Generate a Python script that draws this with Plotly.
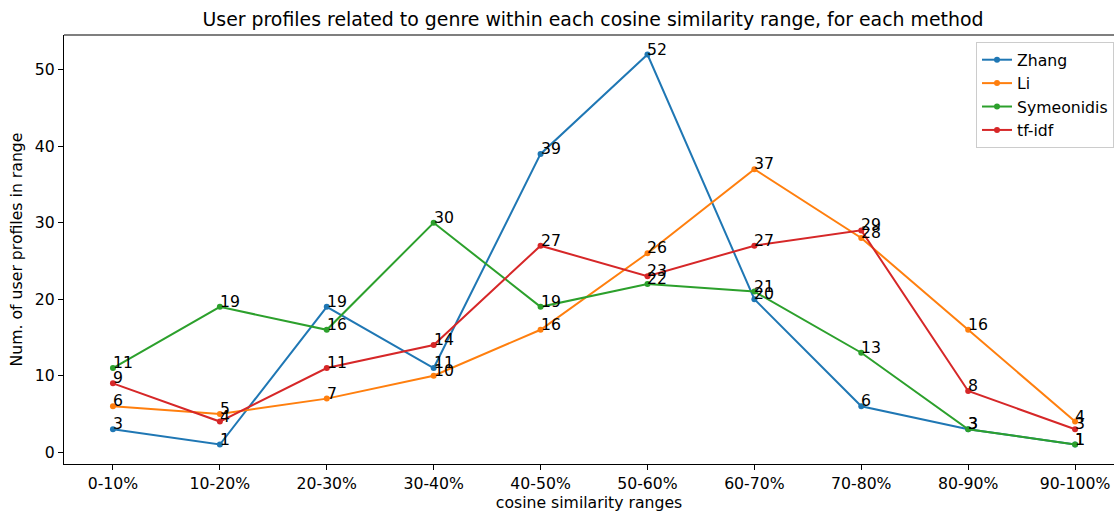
import plotly.graph_objects as go

categories = ["0-10%", "10-20%", "20-30%", "30-40%", "40-50%", "50-60%",
              "60-70%", "70-80%", "80-90%", "90-100%"]
zhang = [3, 1, 19, 11, 39, 52, 20, 6, 3, 1]
li = [6, 5, 7, 10, 16, 26, 37, 28, 16, 4]
symeonidis = [11, 19, 16, 30, 19, 22, 21, 13, 3, 1]
tfidf = [9, 4, 11, 14, 27, 23, 27, 29, 8, 3]

series = [("Zhang", zhang, "#1f77b4"), ("Li", li, "#ff7f0e"),
          ("Symeonidis", symeonidis, "#2ca02c"), ("tf-idf", tfidf, "#d62728")]

FONT = "DejaVu Sans"
FS = 15.7
fig = go.Figure()
xs = list(range(len(categories)))
annotations = []
for name, vals, col in series:
    fig.add_trace(go.Scatter(x=xs, y=vals, name=name, mode="lines+markers",
                             line=dict(color=col, width=2),
                             marker=dict(color=col, size=6)))
    for x, v in zip(xs, vals):
        annotations.append(dict(x=x, y=v, xref="x", yref="y", text=str(v),
                                showarrow=False, xanchor="left", yanchor="bottom",
                                xshift=-2, yshift=-6,
                                font=dict(family=FONT, size=FS, color="black")))

fig.update_layout(
    width=1114, height=512,
    margin=dict(l=64, r=0, t=35, b=48),
    paper_bgcolor="white", plot_bgcolor="white",
    font=dict(family=FONT, size=FS, color="black"),
    title=dict(text="User profiles related to genre within each cosine similarity range, for each method",
               x=593/1114, xanchor="center", y=1-19/512, yanchor="middle",
               font=dict(family=FONT, size=18.9, color="black")),
    showlegend=True,
    legend=dict(x=1.0, xref="paper", xanchor="right",
                y=1 - 7/429, yanchor="top",
                bordercolor="#cccccc", borderwidth=1, bgcolor="rgba(255,255,255,0.8)",
                font=dict(family=FONT, size=FS), tracegroupgap=0),
    annotations=annotations,
    shapes=[dict(type="line", xref="paper", yref="paper", x0=0, x1=1, y0=1, y1=1,
                 line=dict(color="black", width=1.1))],
)
fig.update_xaxes(range=[-0.458, 9.364], tickmode="array", tickvals=xs, ticktext=categories,
                 showgrid=False, zeroline=False, showline=True, linecolor="black", linewidth=1.1,
                 ticks="outside", ticklen=5, tickcolor="black", tickwidth=1,
                 title=dict(text="cosine similarity ranges", font=dict(family=FONT, size=FS), standoff=8),
                 tickfont=dict(family=FONT, size=FS))
fig.update_yaxes(range=[-1.55, 54.55], tickvals=[0, 10, 20, 30, 40, 50],
                 showgrid=False, zeroline=False, showline=True, linecolor="black", linewidth=1.1,
                 ticks="outside", ticklen=5, tickcolor="black", tickwidth=1,
                 title=dict(text="Num. of user profiles in range", font=dict(family=FONT, size=FS), standoff=8),
                 tickfont=dict(family=FONT, size=FS))
fig.write_html("out.html")
